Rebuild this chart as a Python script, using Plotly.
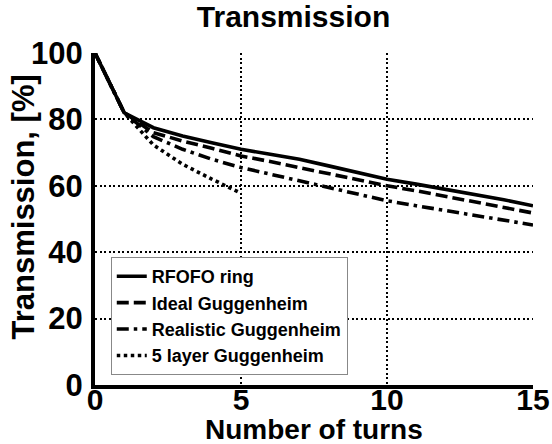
import plotly.graph_objects as go

turns = list(range(0, 16))
rfofo = [100, 82, 77.5, 75, 73, 71, 69.5, 68, 66, 64, 62, 60.5, 59, 57.5, 55.8, 54]
ideal = [100, 82, 76, 73.5, 71.3, 69, 67.3, 65.5, 63.8, 62, 60, 58.5, 56.8, 55.2, 53.5, 51.8]
realistic = [100, 82, 74.8, 71, 68, 65.5, 63.5, 61.5, 59.5, 57.5, 55.5, 54, 52.5, 51, 49.5, 48.2]
five_turns = [0, 1, 2, 3, 4, 5]
five_layer = [100, 82, 72.3, 66.5, 62, 57.8]

names = ["RFOFO ring", "Ideal Guggenheim", "Realistic Guggenheim", "5 layer Guggenheim"]
x_ticks = [0, 5, 10, 15]
y_ticks = [0, 20, 40, 60, 80, 100]
FONT = "Liberation Sans, Arial, Helvetica, sans-serif"
LW = 3.6

fig = go.Figure()
fig.add_trace(go.Scatter(x=turns, y=rfofo, mode="lines", name=names[0],
                         line=dict(color="black", width=LW, dash="solid")))
fig.add_trace(go.Scatter(x=turns, y=ideal, mode="lines", name=names[1],
                         line=dict(color="black", width=LW, dash="12px,5px")))
fig.add_trace(go.Scatter(x=turns, y=realistic, mode="lines", name=names[2],
                         line=dict(color="black", width=LW, dash="12px,5px,3.5px,5px")))
fig.add_trace(go.Scatter(x=five_turns, y=five_layer, mode="lines", name=names[3],
                         line=dict(color="black", width=LW, dash="3.5px,3.5px")))

fig.update_layout(
    width=552, height=444,
    margin=dict(l=95, r=19, t=53, b=59),
    paper_bgcolor="white", plot_bgcolor="white",
    font=dict(family=FONT, color="black", weight="bold"),
    title=dict(text="Transmission", x=293.5 / 552, xanchor="center",
               y=0.962, yanchor="middle",
               font=dict(size=30, family=FONT, weight="bold", color="black")),
    showlegend=True,
    legend=dict(x=0.036, y=0.03, xanchor="left", yanchor="bottom",
                bgcolor="white", bordercolor="#888", borderwidth=1,
                font=dict(size=18, family=FONT, weight="bold", color="black"),
                tracegroupgap=0, itemwidth=30),
    annotations=[
        dict(text="Transmission, [%]", textangle=-90, xref="paper", yref="paper",
             x=(22.5 - 95) / 438, y=(385 - 207) / 332, xanchor="center", yanchor="middle",
             showarrow=False, font=dict(size=31, family=FONT, weight="bold", color="black")),
        dict(text="Number of turns", xref="paper", yref="paper",
             x=0.5, y=(385 - 429) / 332, xanchor="center", yanchor="middle",
             showarrow=False, borderpad=0,
             font=dict(size=28, family=FONT, weight="bold", color="black")),
    ],
)
fig.update_xaxes(
    range=[0, 15], tickvals=x_ticks, ticktext=[str(v) for v in x_ticks],
    automargin=False,
    showgrid=True, gridcolor="black", griddash="2px,2.5px", gridwidth=2,
    showline=True, linecolor="black", linewidth=4, zeroline=False,
    ticks="", ticklabelstandoff=-15,
    tickfont=dict(size=30, family=FONT, weight="bold"),
)
fig.update_yaxes(
    range=[0, 100], tickvals=y_ticks,
    automargin=False,
    showgrid=True, gridcolor="black", griddash="2px,2.5px", gridwidth=2,
    showline=True, linecolor="black", linewidth=4, zeroline=False,
    ticks="", ticklabelstandoff=2,
    tickfont=dict(size=31, family=FONT, weight="bold"),
)

fig.write_html("out.html")
